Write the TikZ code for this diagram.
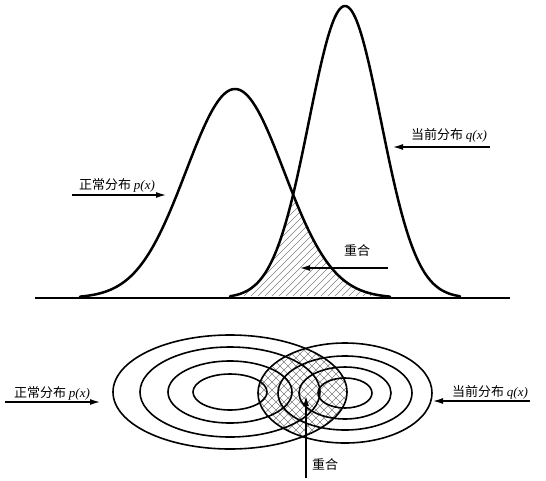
\documentclass[tikz,border=0pt]{standalone}
\usepackage{fontspec}
\newfontfamily\cjk{Noto Sans CJK SC}
\newfontfamily\tms{Liberation Serif}
\usetikzlibrary{arrows.meta}
\begin{document}
\begin{tikzpicture}[x=1pt,y=-1pt,
  curve/.style={line width=2.5pt, line join=round, line cap=round},
  baseln/.style={line width=2.8pt},
  ring/.style={line width=1.6pt},
  lbl/.style={font=\cjk\fontsize{13}{15}\selectfont, inner sep=0pt},
  pointer/.style={line width=1.3pt, -{Latex[length=10pt,width=6pt]}},
  hatch/.style={black!50, line width=0.4pt}]
\useasboundingbox (0,0) rectangle (546,480);

% ---------- upper part: overlap hatch ----------
\begin{scope}
  \clip plot[domain=80:390,samples=150] (\x,{298-209*exp(-0.5*((\x-235)/49)*((\x-235)/49))}) -- cycle;
  \clip plot[domain=230:460,samples=150] (\x,{298-292*exp(-0.5*((\x-345)/36)*((\x-345)/36))}) -- cycle;
  \foreach \i in {100,107,...,400} \draw[hatch] (\i,300) -- ++(160,-160);
\end{scope}

% curves
\draw[curve] plot[domain=80:390,samples=150] (\x,{298-209*exp(-0.5*((\x-235)/49)*((\x-235)/49))});
\draw[curve] plot[domain=230:460,samples=150] (\x,{298-292*exp(-0.5*((\x-345)/36)*((\x-345)/36))});
\draw[baseln] (35,298) -- (510,298);

% labels upper
\node[lbl] (ptop) at (117,185) {正常分布 {\tms\itshape p(x)}};
\node[lbl] (qtop) at (449,135) {当前分布 {\tms\itshape q(x)}};
\node[lbl] (otop) at (357,251) {重合};
\coordinate (ptopA) at (72,195);  \coordinate (ptopB) at (166,195);
\coordinate (qtopA) at (490,147); \coordinate (qtopB) at (393,147);
\coordinate (otopA) at (388,268); \coordinate (otopB) at (300,268);
\draw[pointer] (ptopA) -- (ptopB);
\draw[pointer] (qtopA) -- (qtopB);
\draw[pointer] (otopA) -- (otopB);

% ---------- lower part ----------
\begin{scope}
  \clip (230,392) ellipse [x radius=117pt, y radius=57pt];
  \clip (345,393) ellipse [x radius=87pt, y radius=50pt];
  \foreach \i in {130,138,...,345} \draw[hatch] (\i,460) -- ++(125,-125);
  \foreach \i in {262,270,...,480} \draw[hatch] (\i,460) -- ++(-125,-125);
\end{scope}

\foreach \a/\b in {117/57,90/45,62/31,37/18}
  \draw[ring] (230,392) ellipse [x radius=\a pt, y radius=\b pt];
\foreach \a/\b in {87/50,67/37,46/26,27/15}
  \draw[ring] (345,393) ellipse [x radius=\a pt, y radius=\b pt];

\node[lbl] (pbot) at (52,393) {正常分布 {\tms\itshape p(x)}};
\node[lbl] (qbot) at (490,392) {当前分布 {\tms\itshape q(x)}};
\node[lbl] (obot) at (325,465) {重合};
\coordinate (pbotA) at (5,402);   \coordinate (pbotB) at (100,402);
\coordinate (qbotA) at (530,401); \coordinate (qbotB) at (433,401);
\coordinate (obotA) at (306,478); \coordinate (obotB) at (306,396);
\draw[pointer] (pbotA) -- (pbotB);
\draw[pointer] (qbotA) -- (qbotB);
\draw[pointer] (obotA) -- (obotB);
\end{tikzpicture}
\end{document}
